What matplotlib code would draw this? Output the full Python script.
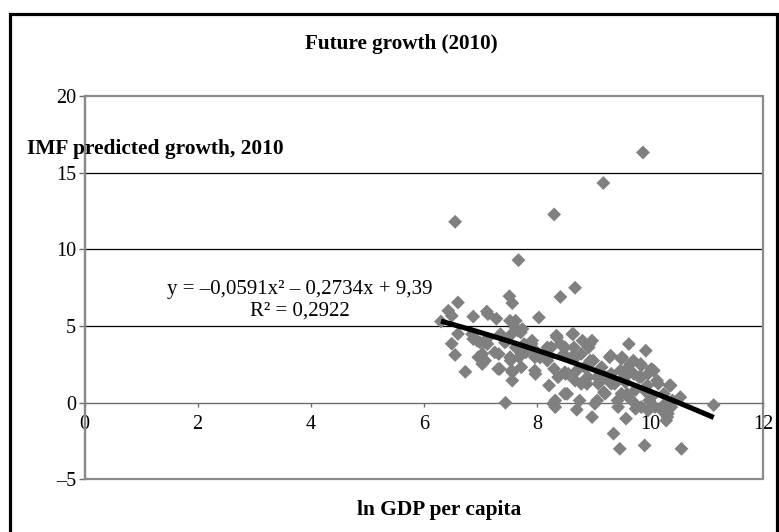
import matplotlib
matplotlib.use("Agg")
import matplotlib.pyplot as plt
from matplotlib.patches import Rectangle
import numpy as np

plt.rcParams['font.family'] = ['Liberation Serif', 'DejaVu Serif']

# ---------------- data ----------------
title = "Future growth (2010)"
y_label = "IMF predicted growth, 2010"
x_label = "ln GDP per capita"
x_ticks = [0, 2, 4, 6, 8, 10, 12]
x_tick_labels = ["0", "2", "4", "6", "8", "10", "12"]
y_ticks = [-5, 0, 5, 10, 15, 20]
y_tick_labels = ["\u20135", "0", "5", "10", "15", "20"]

ln_gdp = [
    6.55, 8.30, 9.17, 9.87, 7.67, 8.67, 8.41, 7.51, 7.56, 8.03,
    6.60, 6.43, 6.49, 6.30, 6.87, 7.11, 7.13, 7.28, 7.52, 7.61,
    7.55, 6.60, 6.49, 6.55, 6.73, 6.87, 6.99, 7.11, 6.96, 7.08,
    7.25, 7.31, 7.43, 7.52, 7.55, 7.56, 7.62, 7.66, 7.74, 7.71,
    7.62, 7.68, 7.77, 7.80, 7.72, 7.72, 7.91, 7.90, 7.94, 7.96,
    7.96, 7.97, 7.44, 7.06, 7.12, 7.03, 6.94, 6.85, 7.35, 7.47,
    7.32, 7.34, 7.53, 7.56, 7.03,
    8.18, 8.18, 8.21, 8.30, 8.32, 8.32, 8.35, 8.41, 8.47, 8.50,
    8.53, 8.62, 8.65, 8.68, 8.70, 8.70, 8.80, 8.83, 8.88, 8.91,
    8.94, 8.97, 8.97, 9.06, 9.06, 9.18, 9.24, 9.30, 9.35, 8.34,
    8.64, 8.93, 8.49, 8.25, 8.19, 8.61, 8.78, 8.99, 8.84, 9.14,
    9.28, 8.49, 9.31, 8.28, 8.49, 8.75, 9.02, 9.20, 8.37, 8.55,
    8.67, 8.78, 8.90, 9.08, 9.20, 9.31, 8.05,
    9.42, 9.47, 9.50, 9.56, 9.59, 9.62, 9.65, 9.71, 9.74, 9.80,
    9.83, 9.92, 9.95, 9.98, 10.06, 10.12, 10.24, 10.30, 10.30, 10.36,
    10.39, 10.53, 9.46, 9.90, 10.55, 9.57, 10.28, 11.12, 10.14, 9.73,
    9.84, 9.96, 10.08, 10.20, 10.26, 10.31, 10.37, 10.02, 9.90, 9.73,
    9.49, 9.61, 9.43, 9.37, 9.55, 9.84, 9.96, 9.49, 9.70, 9.84,
    10.02, 9.55, 10.34,
]
imf_growth = [
    11.80, 12.28, 14.33, 16.32, 9.30, 7.50, 6.90, 6.95, 6.50, 5.56,
    6.54, 6.00, 5.67, 5.30, 5.62, 5.95, 5.78, 5.48, 5.35, 4.92,
    4.49, 4.49, 3.85, 3.12, 2.02, 4.16, 3.94, 4.16, 2.97, 2.75,
    3.29, 2.21, 3.94, 2.97, 2.10, 1.45, 5.35, 4.70, 4.81, 4.59,
    3.61, 2.97, 3.83, 3.29, 3.40, 2.32, 4.05, 3.84, 3.51, 2.97,
    2.10, 1.88, 0.00, 3.94, 3.83, 2.53, 4.05, 4.48, 4.48, 4.05,
    3.18, 2.21, 2.75, 1.99, 3.18,
    3.61, 2.75, 1.13, 2.21, 0.15, -0.28, 4.26, 3.83, 3.18, 1.88,
    0.58, 4.48, 3.61, 2.97, 2.10, -0.45, 4.05, 1.45, 1.23, 3.61,
    2.75, 4.05, -0.93, 1.67, 0.15, 0.69, 1.67, 3.07, -2.01, 4.38,
    4.49, 3.84, 3.62, 3.62, 2.97, 2.97, 3.19, 2.75, 2.32, 2.32,
    2.97, 1.99, 1.89, -0.06, 0.59, 0.15, -0.06, 0.59, 1.67, 1.89,
    1.45, 1.24, 1.67, 1.24, 1.67, 1.24, 2.95,
    0.15, 2.10, 2.97, 1.34, 0.58, 3.83, 2.53, 1.88, -0.39, 1.67,
    2.53, 3.40, 1.13, 0.15, 2.10, 1.45, 0.58, -0.28, -0.93, 1.13,
    0.15, 0.37, -3.00, -2.78, -3.00, -1.03, -1.16, -0.15, 1.24, -0.06,
    -0.28, -0.49, -0.28, -0.49, -0.06, -0.71, -0.28, 0.37, 0.81, 0.81,
    0.59, 0.37, -0.28, 1.24, 1.67, 1.67, 1.89, 2.86, 2.75, 2.43,
    2.21, 2.10, 1.13,
]

# polynomial trendline coefficients (as printed on the chart)
trend_a, trend_b, trend_c = -0.0591, -0.2734, 9.39
eq_line1 = "y = \u20130,0591x\u00b2 \u2013 0,2734x + 9,39"
eq_line2 = "R\u00b2 = 0,2922"

# ---------------- figure ----------------
fig = plt.figure(figsize=(7.79, 5.32), dpi=100)
ax = fig.add_axes([0.1085, 0.0987, 0.8716, 0.7208])
ax.set_xlim(0, 12)
ax.set_ylim(-5, 20)

# outer black frame
fig.patches.append(Rectangle((0.0122, -0.05), 0.9846, 1.0246, fill=False,
                             ec='black', lw=2.3, transform=fig.transFigure,
                             clip_on=False))

# plot area border
ax.add_patch(Rectangle((0, 0), 1, 1, transform=ax.transAxes, fill=False,
                       ec='#8a8a8a', lw=1.6, clip_on=False, zorder=1))

for s in ['top', 'right']:
    ax.spines[s].set_visible(False)
ax.spines['left'].set_color('#8a8a8a')
ax.spines['left'].set_linewidth(1.6)
ax.spines['bottom'].set_position(('data', 0))
ax.spines['bottom'].set_color('#6e6e6e')
ax.spines['bottom'].set_linewidth(1.0)

ax.set_xticks(x_ticks)
ax.set_xticklabels(x_tick_labels)
ax.set_yticks(y_ticks)
ax.set_yticklabels(y_tick_labels)
ax.tick_params(axis='y', direction='out', length=4.5, width=1.0,
               color='#6e6e6e', pad=1.5, labelsize=14.5)
ax.tick_params(axis='x', direction='out', length=3.0, width=1.0,
               color='#6e6e6e', pad=6, labelsize=14.5)

ax.yaxis.grid(True, color='black', lw=0.9)
for gl, v in zip(ax.yaxis.get_gridlines(), y_ticks):
    if v in (-5, 0, 20):
        gl.set_visible(False)
ax.set_axisbelow(True)

ax.scatter(ln_gdp, imf_growth, marker='D', s=50, c='#808080',
           edgecolors='none', zorder=3)

xs = np.linspace(min(ln_gdp), max(ln_gdp), 100)
ax.plot(xs, trend_a * xs ** 2 + trend_b * xs + trend_c, color='black',
        lw=3.7, solid_capstyle='butt', zorder=4)

ax.text(3.8, 7.10, eq_line1, ha='center', va='baseline', fontsize=15)
ax.text(3.8, 5.68, eq_line2, ha='center', va='baseline', fontsize=15)

fig.text(0.515, 0.907, title, ha='center', va='baseline', fontsize=15.2,
         fontweight='bold')
fig.text(27 / 779, 1 - 154.3 / 532, y_label, ha='left', va='baseline',
         fontsize=15.4, fontweight='bold')
fig.text(439 / 779, 1 - 515 / 532, x_label, ha='center', va='baseline',
         fontsize=15.4, fontweight='bold')

fig.savefig("out.png", dpi=100)
